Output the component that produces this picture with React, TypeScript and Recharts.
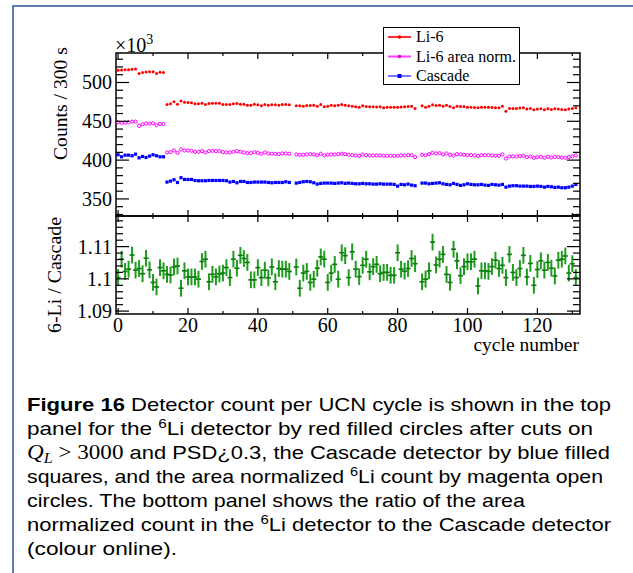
import { ScatterChart, Scatter, XAxis, YAxis, ErrorBar, ReferenceArea, Legend } from 'recharts'

// cycle numbers (cycles 50 and 86 have no data)
const CYCLES = [
  0, 1, 2, 3, 4, 5, 6, 7, 8, 9, 10, 11, 12, 13, 14, 15, 16, 17, 18, 19,
  20, 21, 22, 23, 24, 25, 26, 27, 28, 29, 30, 31, 32, 33, 34, 35, 36, 37, 38, 39,
  40, 41, 42, 43, 44, 45, 46, 47, 48, 49,
  51, 52, 53, 54, 55, 56, 57, 58, 59, 60, 61, 62, 63, 64, 65, 66, 67, 68, 69, 70,
  71, 72, 73, 74, 75, 76, 77, 78, 79, 80, 81, 82, 83, 84, 85,
  87, 88, 89, 90, 91, 92, 93, 94, 95, 96, 97, 98, 99, 100, 101, 102, 103, 104, 105, 106,
  107, 108, 109, 110, 111, 112, 113, 114, 115, 116, 117, 118, 119, 120, 121, 122, 123, 124, 125, 126,
  127, 128, 129, 130, 131,
]

// counts per 300 s, in units of 10^3
const LI6 = [
  515.8, 516.0, 516.5, 516.3, 517.2, 517.4, 511.5, 513.0, 513.4, 513.8, 514.0, 511.5, 513.2, 513.0,
  471.7, 472.5, 475.1, 472.1, 476.0, 474.7, 474.2, 473.8, 472.5, 472.5, 473.4, 471.7, 473.0, 473.4, 473.4,
  473.4, 471.7, 471.7, 471.7, 472.5, 473.0, 472.1, 472.1, 470.8, 470.8, 472.1, 471.2, 470.0, 471.7, 470.8,
  471.2, 471.2, 470.8, 471.7, 471.7, 471.2,
  470.0, 470.2, 469.5, 470.4, 470.4, 470.8, 469.5, 471.5, 468.8, 469.5,
  470.6, 470.0, 470.6, 471.7, 470.8, 470.0, 469.3, 468.6, 468.2, 470.0,
  469.0, 468.8, 468.8, 468.4, 468.8, 467.6, 468.0, 468.0, 468.0, 468.2,
  468.4, 468.8, 469.0, 469.3, 466.4,
  470.0, 468.2, 469.5, 471.2, 470.4, 470.8, 469.5, 470.8, 469.1, 467.4,
  469.5, 469.1, 469.1, 468.2, 468.2, 467.8, 467.4, 468.2, 468.2, 468.2,
  467.8, 467.4, 467.4, 469.5, 463.1,
  466.5, 466.5, 466.5, 467.0, 467.4, 465.7, 466.5, 464.8, 465.7, 466.1,
  464.8, 466.1, 465.2, 466.1, 465.7, 465.2, 464.8, 465.7, 466.5, 467.4,
]

const LI6_NORM = [
  448.8, 448.0, 448.4, 448.8, 449.6, 449.6, 444.2, 446.2, 447.0, 447.0, 447.4, 445.0, 446.6, 446.6,
  409.9, 410.3, 412.4, 409.4, 413.7, 412.4, 412.4, 412.0, 410.7, 410.7, 411.6, 409.9, 411.6, 412.0, 411.6,
  411.6, 410.3, 409.9, 409.9, 410.7, 411.6, 410.7, 409.9, 409.0, 409.0, 410.3, 409.4, 408.2, 409.9, 408.6,
  408.2, 408.2, 407.7, 408.6, 408.6, 408.2,
  407.3, 406.9, 406.9, 407.3, 407.7, 407.3, 406.4, 408.2, 406.0, 406.9,
  407.3, 407.3, 407.7, 408.2, 407.7, 406.9, 406.4, 406.0, 405.6, 407.3,
  406.4, 406.0, 406.0, 406.0, 406.0, 405.6, 405.6, 405.6, 405.6, 405.6,
  406.0, 406.0, 406.4, 406.4, 403.9,
  406.9, 406.4, 407.7, 409.4, 408.6, 409.0, 407.3, 408.6, 406.9, 406.0,
  407.7, 407.3, 406.9, 406.4, 406.4, 406.0, 405.6, 406.4, 406.4, 406.4,
  406.0, 405.6, 405.6, 407.3, 402.1,
  404.7, 404.7, 404.7, 405.2, 405.6, 403.9, 404.7, 403.0, 403.9, 404.3,
  403.0, 404.3, 403.4, 404.3, 403.9, 403.4, 403.0, 403.9, 404.7, 406.0,
]

const CASCADE = [
  406.9, 404.3, 406.4, 406.4, 405.6, 407.7, 403.0, 404.7, 403.4, 405.2, 406.9, 405.6, 404.3, 404.3,
  371.7, 373.0, 374.7, 371.2, 377.3, 375.1, 375.1, 375.1, 373.8, 373.4, 373.4, 373.4, 373.8, 373.8, 373.8,
  373.8, 373.8, 373.4, 371.7, 372.5, 370.8, 372.5, 372.5, 371.2, 371.2, 371.7, 371.7, 371.7, 371.7, 371.2,
  370.8, 371.2, 371.2, 371.2, 372.1, 371.2,
  370.4, 371.2, 372.1, 372.5, 372.1, 370.8, 369.1, 370.0, 370.4, 370.4,
  370.4, 370.0, 370.4, 370.8, 370.0, 370.4, 370.0, 369.5, 369.5, 370.0,
  369.5, 369.5, 369.1, 369.1, 369.5, 369.1, 369.1, 369.1, 368.7, 366.5,
  368.7, 368.2, 369.1, 367.8, 367.0,
  370.4, 370.4, 369.5, 370.0, 370.4, 370.8, 369.5, 368.7, 368.2, 370.0,
  368.7, 367.4, 368.2, 369.5, 368.7, 368.2, 368.2, 368.7, 367.8, 367.4,
  368.7, 368.2, 367.8, 368.7, 365.2,
  366.5, 367.0, 367.0, 366.5, 366.5, 366.5, 366.1, 366.1, 366.5, 366.1,
  365.2, 366.1, 365.7, 364.8, 365.2, 364.4, 364.4, 365.2, 366.5, 368.7,
]

// area normalized 6-Li / Cascade
const RATIO = [
  1.1004, 1.1061, 1.1023, 1.1030, 1.1074, 1.1027, 1.1032, 1.1016, 1.1064, 1.1028,
  1.0989, 1.0975, 1.1035, 1.1025, 1.1014, 1.1012, 1.1037, 1.1040, 1.0971, 1.1025,
  1.1006, 1.1006, 1.1006, 1.0999, 1.1054, 1.1061, 1.0991, 1.1014, 1.1006, 1.1015,
  1.1018, 1.1035, 1.1004,
  1.1061, 1.1033, 1.1073, 1.1063, 1.1051, 1.0997, 1.0997, 1.1035, 1.1004, 1.1027,
  1.1003, 1.1037, 1.0991, 1.1032, 1.1030, 1.1030, 1.1023,
  1.1037, 1.0971, 1.1018, 1.1023, 1.0989, 1.0999, 1.1033, 1.1068, 1.1061, 1.0989,
  1.1018, 1.1045, 1.0999, 1.1081, 1.1072, 1.1004, 1.1084, 1.1030, 1.1007, 1.1042,
  1.1061, 1.1022, 1.1038, 1.1045, 1.1016, 1.1020, 1.1020, 1.1011, 1.1011, 1.1081,
  1.1030, 1.1024, 1.1032, 1.1063, 1.1047,
  1.0991, 1.0999, 1.1025, 1.1114, 1.1043, 1.1061, 1.1076, 1.1014, 1.0989, 1.1092,
  1.1056, 1.1010, 1.1038, 1.1053, 1.1053, 1.1061, 1.0978, 1.1025, 1.1025, 1.1023,
  1.1038, 1.1058, 1.1032, 1.1042, 1.1004,
  1.1076, 1.1020, 1.1004, 1.1032, 1.1073, 1.1006, 1.1048, 1.0980, 1.1029, 1.1056,
  1.1027, 1.1051, 1.1033, 1.1009, 1.1058, 1.1061, 1.1071, 1.1018, 1.1047, 1.1004,
]
const RATIO_ERR = 0.0026

const X_TICKS = [0, 10, 20, 30, 40, 50, 60, 70, 80, 90, 100, 110, 120, 130]
const X_MAJOR = [0, 20, 40, 60, 80, 100, 120]
const TOP_Y_TICKS = [330, 340, 350, 360, 370, 380, 390, 400, 410, 420, 430, 440, 450, 460, 470, 480, 490, 500, 510, 520, 530]
const TOP_Y_MAJOR = [350, 400, 450, 500]
const RATIO_TICKS = [1.09, 1.092, 1.094, 1.096, 1.098, 1.1, 1.102, 1.104, 1.106, 1.108, 1.11, 1.112, 1.114, 1.116, 1.118]
const RATIO_MAJOR = [1.09, 1.1, 1.11]

const X_DOMAIN: [number, number] = [-0.6, 132.2]
const TOP_Y_DOMAIN: [number, number] = [328, 538]
const RATIO_DOMAIN: [number, number] = [1.0891, 1.1195]

const W = 633
const PLOT_LEFT = 116
const PLOT_W = 464
const TOP_H = 163
const BOT_H = 98

const RED = '#ff0000'
const MAGENTA = '#ff00ff'
const BLUE = '#0000ff'
const GREEN = '#1f9c1f'

const serif = '"Liberation Serif", "Times New Roman", serif'
const sans = '"Liberation Sans", Arial, sans-serif'

const li6Data = CYCLES.map((x, i) => ({ x, y: LI6[i] }))
const normData = CYCLES.map((x, i) => ({ x, y: LI6_NORM[i] }))
const cascadeData = CYCLES.map((x, i) => ({ x, y: CASCADE[i] }))
const ratioData = CYCLES.map((x, i) => ({ x, y: RATIO[i], err: RATIO_ERR }))

const SERIES = [
  { name: 'Li-6', line: '#ff3030', marker: RED, square: false },
  { name: 'Li-6 area norm.', line: '#ff40ff', marker: '#e000e0', square: false },
  { name: 'Cascade', line: '#7a7aff', marker: BLUE, square: true },
]

// ROOT style ticks: drawn inward on both sides of the frame
const makeYTick = (majors: number[]) => (props: any) => {
  const { x, y, payload } = props
  const major = majors.includes(payload.value)
  const len = major ? 13 : 7
  return (
    <g>
      <line x1={x} y1={y} x2={x + len} y2={y} stroke="#000" strokeWidth={1.2} />
      <line x1={x + PLOT_W} y1={y} x2={x + PLOT_W - len} y2={y} stroke="#000" strokeWidth={1.2} />
      {major && (
        <text x={x - 4} y={y + 7} textAnchor="end" fontSize={20} fontFamily={serif} fill="#000">
          {payload.value}
        </text>
      )}
    </g>
  )
}

const makeXTick = (plotH: number, labels: boolean) => (props: any) => {
  const { x, y, payload } = props
  const major = X_MAJOR.includes(payload.value)
  const len = major ? 6 : 3
  return (
    <g>
      <line x1={x} y1={y} x2={x} y2={y - len} stroke="#000" strokeWidth={1.2} />
      <line x1={x} y1={y - plotH} x2={x} y2={y - plotH + len} stroke="#000" strokeWidth={1.2} />
      {labels && major && (
        <text x={x} y={y + 18} textAnchor="middle" fontSize={20} fontFamily={serif} fill="#000">
          {payload.value}
        </text>
      )}
    </g>
  )
}

const redDot = (p: any) => <circle cx={p.cx} cy={p.cy} r={1.5} fill={RED} />
const magentaRing = (p: any) => <circle cx={p.cx} cy={p.cy} r={1.6} fill="none" stroke={MAGENTA} strokeWidth={1} />
const blueSquare = (p: any) => <rect x={p.cx - 1.6} y={p.cy - 1.6} width={3.2} height={3.2} fill={BLUE} />
const greenTick = (p: any) => <rect x={p.cx - 2.5} y={p.cy - 0.8} width={5} height={1.6} fill="#0b7a0b" />

const renderLegend = () => (
  <svg width={138} height={59} style={{ display: 'block' }}>
    <rect x={0.5} y={0.5} width={136} height={57} fill="#fff" stroke="#000" strokeWidth={1} />
    {SERIES.map((s, i) => {
      const cy = 10 + i * 19.5
      return (
        <g key={s.name}>
          <line x1={5} y1={cy} x2={28} y2={cy} stroke={s.line} strokeWidth={2} />
          {s.square ? (
            <rect x={14.5} y={cy - 2} width={4} height={4} fill={s.marker} />
          ) : (
            <circle cx={16.5} cy={cy} r={1.8} fill={s.marker} />
          )}
          <text x={33} y={cy + 5} fontSize={16} fontFamily={serif} fill="#000">
            {s.name}
          </text>
        </g>
      )
    })}
  </svg>
)

const CAPTION_X = 27
const CAPTION_Y = 410.5
const CAPTION_STEP = 24.1

export default function App() {
  const sup = (t: string) => (
    <>
      <tspan dy={-7} fontSize={13}>{t}</tspan>
      <tspan dy={7}>Li</tspan>
    </>
  )
  const capLine = (i: number, len: number, content: any) => (
    <text
      x={CAPTION_X}
      y={CAPTION_Y + i * CAPTION_STEP}
      fontSize={19}
      fontFamily={sans}
      fill="#000"
      textLength={len}
      lengthAdjust="spacingAndGlyphs"
    >
      {content}
    </text>
  )

  return (
    <div style={{ position: 'absolute', left: 0, top: 0, width: W, height: 573, background: '#fff', overflow: 'hidden' }}>
      <div style={{ position: 'absolute', left: 13, top: 5, width: 620, height: 2, background: '#5b80ab' }} />
      <div style={{ position: 'absolute', left: 12, top: 5, width: 2, height: 568, background: '#5b80ab' }} />

      <div style={{ position: 'absolute', left: 0, top: 0 }}>
        <ScatterChart width={W} height={226} margin={{ top: 53, right: W - PLOT_LEFT - PLOT_W, bottom: 4, left: 0 }}>
          <XAxis
            type="number"
            dataKey="x"
            domain={X_DOMAIN}
            ticks={X_TICKS}
            interval={0}
            allowDataOverflow
            height={6}
            axisLine={false}
            tickLine={false}
            tickSize={0}
            tickMargin={0}
            tick={makeXTick(TOP_H, false)}
          />
          <YAxis
            type="number"
            dataKey="y"
            domain={TOP_Y_DOMAIN}
            ticks={TOP_Y_TICKS}
            interval={0}
            allowDataOverflow
            width={PLOT_LEFT}
            axisLine={false}
            tickLine={false}
            tickSize={0}
            tickMargin={0}
            tick={makeYTick(TOP_Y_MAJOR)}
          />
          <ReferenceArea
            x1={X_DOMAIN[0]}
            x2={X_DOMAIN[1]}
            y1={TOP_Y_DOMAIN[0]}
            y2={TOP_Y_DOMAIN[1]}
            fill="none"
            stroke="#000"
            strokeWidth={1.5}
            ifOverflow="visible"
          />
          <Scatter name="Li-6" data={li6Data} shape={redDot} isAnimationActive={false} />
          <Scatter name="Li-6 area norm." data={normData} shape={magentaRing} isAnimationActive={false} />
          <Scatter name="Cascade" data={cascadeData} shape={blueSquare} isAnimationActive={false} />
          <Legend
            layout="vertical"
            align="center"
            verticalAlign="middle"
            content={renderLegend}
            wrapperStyle={{ position: 'absolute', left: 383, top: 27, width: 138, height: 59 }}
          />
        </ScatterChart>
      </div>

      <div style={{ position: 'absolute', left: 0, top: 200 }}>
        <ScatterChart width={W} height={170} margin={{ top: 16, right: W - PLOT_LEFT - PLOT_W, bottom: 0, left: 0 }}>
          <XAxis
            type="number"
            dataKey="x"
            domain={X_DOMAIN}
            ticks={X_TICKS}
            interval={0}
            allowDataOverflow
            height={56}
            axisLine={false}
            tickLine={false}
            tickSize={0}
            tickMargin={0}
            tick={makeXTick(BOT_H, true)}
          />
          <YAxis
            type="number"
            dataKey="y"
            domain={RATIO_DOMAIN}
            ticks={RATIO_TICKS}
            interval={0}
            allowDataOverflow
            width={PLOT_LEFT}
            axisLine={false}
            tickLine={false}
            tickSize={0}
            tickMargin={0}
            tick={makeYTick(RATIO_MAJOR)}
          />
          <ReferenceArea
            x1={X_DOMAIN[0]}
            x2={X_DOMAIN[1]}
            y1={RATIO_DOMAIN[0]}
            y2={RATIO_DOMAIN[1]}
            fill="none"
            stroke="#000"
            strokeWidth={1.5}
            ifOverflow="visible"
          />
          <Scatter name="ratio" data={ratioData} shape={greenTick} isAnimationActive={false}>
            <ErrorBar dataKey="err" direction="y" width={0} stroke={GREEN} strokeWidth={2} isAnimationActive={false} />
          </Scatter>
        </ScatterChart>
      </div>

      <svg width={W} height={573} style={{ position: 'absolute', left: 0, top: 0, pointerEvents: 'none' }}>
        <text x={115} y={52} fontSize={20} fontFamily={serif} fill="#000">
          ×10<tspan dy={-8} fontSize={14}>3</tspan>
        </text>
        <text
          transform="translate(67,103.5) rotate(-90)"
          textAnchor="middle"
          fontSize={19.5}
          fontFamily={serif}
          fill="#000"
          textLength={113}
          lengthAdjust="spacingAndGlyphs"
        >
          Counts / 300 s
        </text>
        <text
          transform="translate(61,275) rotate(-90)"
          textAnchor="middle"
          fontSize={19.5}
          fontFamily={serif}
          fill="#000"
          textLength={116}
          lengthAdjust="spacingAndGlyphs"
        >
          6-Li / Cascade
        </text>
        <text x={579} y={351} textAnchor="end" fontSize={19.5} fontFamily={serif} fill="#000">
          cycle number
        </text>

        {capLine(0, 584, (
          <>
            <tspan fontWeight="bold">Figure 16</tspan>
            <tspan> Detector count per UCN cycle is shown in the top</tspan>
          </>
        ))}
        {capLine(1, 566, (
          <>
            <tspan>panel for the </tspan>
            {sup('6')}
            <tspan> detector by red filled circles after cuts on</tspan>
          </>
        ))}
        {capLine(2, 583, (
          <>
            <tspan fontFamily={serif} fontStyle="italic" fontSize={20}>Q</tspan>
            <tspan fontFamily={serif} fontStyle="italic" fontSize={14} dy={4}>L</tspan>
            <tspan fontFamily={serif} fontSize={20} dy={-4}> &gt; 3000</tspan>
            <tspan> and PSD¿0.3, the Cascade detector by blue filled</tspan>
          </>
        ))}
        {capLine(3, 576, (
          <>
            <tspan>squares, and the area normalized </tspan>
            {sup('6')}
            <tspan> count by magenta open</tspan>
          </>
        ))}
        {capLine(4, 498, <tspan>circles. The bottom panel shows the ratio of the area</tspan>)}
        {capLine(5, 584, (
          <>
            <tspan>normalized count in the </tspan>
            {sup('6')}
            <tspan> detector to the Cascade detector</tspan>
          </>
        ))}
        {capLine(6, 150, <tspan>(colour online).</tspan>)}
      </svg>
    </div>
  )
}
